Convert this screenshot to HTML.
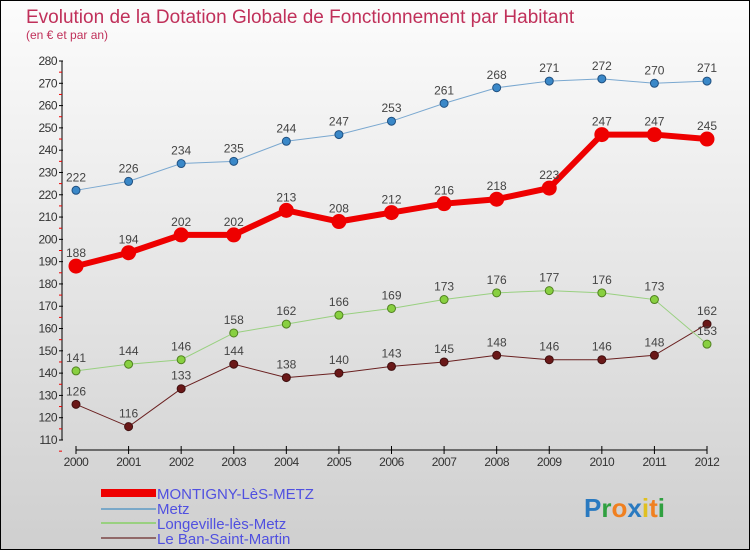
<!DOCTYPE html>
<html><head><meta charset="utf-8"><style>
html,body{margin:0;padding:0}
body{width:750px;height:550px;overflow:hidden;font-family:"Liberation Sans",sans-serif}
#wrap{position:relative;width:748px;height:548px;border:1px solid #000;background:linear-gradient(#fcfcfc,#cfcfcf)}
</style></head><body>
<div id="wrap">
<svg id="chart" width="748" height="548">
<text x="25" y="22" font-size="19" fill="#c0305a">Evolution de la Dotation Globale de Fonctionnement par Habitant</text>
<text x="25" y="38" font-size="12" fill="#c0305a">(en € et par an)</text>
<g id="axes"></g><g id="series"></g>
<g>
<rect x="100" y="488" width="55" height="8" fill="#ee0000"/>
<text x="156" y="498" font-size="15" fill="#5050e0">MONTIGNY-LèS-METZ</text>
<rect x="100" y="507" width="55" height="2" fill="#7aa8c8"/>
<text x="156" y="513" font-size="15" fill="#5050e0">Metz</text>
<rect x="100" y="521" width="55" height="2" fill="#99d080"/>
<text x="156" y="528" font-size="15" fill="#5050e0">Longeville-lès-Metz</text>
<rect x="100" y="536" width="55" height="2" fill="#906868"/>
<text x="156" y="543" font-size="15" fill="#5050e0">Le Ban-Saint-Martin</text>
</g>
<text x="583" y="516" font-size="26" font-weight="bold"><tspan fill="#2a7ac0">P</tspan><tspan fill="#30a040">r</tspan><tspan fill="#f08020">o</tspan><tspan fill="#2a7ac0">x</tspan><tspan fill="#e0c020">i</tspan><tspan fill="#f08020">t</tspan><tspan fill="#30a040">i</tspan></text>
</svg>
</div>
<script>
const years=[2000,2001,2002,2003,2004,2005,2006,2007,2008,2009,2010,2011,2012];
const montigny=[188,194,202,202,213,208,212,216,218,223,247,247,245];
const metz=[222,226,234,235,244,247,253,261,268,271,272,270,271];
const longeville=[141,144,146,158,162,166,169,173,176,177,176,173,153];
const ban=[126,116,133,144,138,140,143,145,148,146,146,148,162];
const yTicks=[110,120,130,140,150,160,170,180,190,200,210,220,230,240,250,260,270,280];
const NS="http://www.w3.org/2000/svg";
function X(i){return 75+i*(706-75)/(years.length-1);}
function Y(v){return 60+(280-v)*(379/170);}
function mk(t,a,p){const e=document.createElementNS(NS,t);for(const k in a)e.setAttribute(k,a[k]);p.appendChild(e);return e;}
const ax=document.getElementById('axes'),sg=document.getElementById('series');
const yl=mk('line',{x1:61,y1:Y(280),x2:61,y2:Y(110),stroke:'#000'},ax);


yTicks.forEach(v=>{
 mk('line',{x1:58,x2:62,y1:Y(v),y2:Y(v),stroke:'#000'},ax);
 mk('line',{x1:58,x2:61,y1:Y(v-5),y2:Y(v-5),stroke:'#e00'},ax);
 const t=mk('text',{x:56,y:Y(v)+4,'text-anchor':'end','font-size':12,fill:'#333','letter-spacing':'-0.5'},ax);t.textContent=v;
 
 
});
const xl=mk('line',{x1:X(0),y1:449,x2:X(12),y2:449,stroke:'#000'},ax);


years.forEach((y,i)=>{
 mk('line',{x1:X(i),x2:X(i),y1:445,y2:453,stroke:'#000'},ax);
 const t=mk('text',{x:X(i),y:465,'text-anchor':'middle','font-size':12,fill:'#333','letter-spacing':'-0.5'},ax);t.textContent=y;
 
 
});
function series(d,name,color,w,r,dot,stroke){
 const g=mk('g',{},sg);
 
 
 const pl=mk('polyline',{points:d.map((v,i)=>X(i)+','+Y(v)).join(' '),fill:'none',stroke:color,'stroke-width':w},g);
 
 
 d.forEach((v,i)=>{
  const c=mk('circle',{cx:X(i),cy:Y(v),r:r,fill:dot,stroke:stroke,'stroke-width':1},g);
  
  
  const t=mk('text',{x:X(i),y:Y(v)-9,'text-anchor':'middle','font-size':12,fill:'#444'},g);t.textContent=v;
  
  
 });
}
series(ban,'ban','#6a2020',1,4,'#6a1818','#401010');
series(longeville,'longeville','#99d080',1,4,'#88d040','#508020');
series(metz,'metz','#7aa8d0',1,4,'#3a88c8','#205080');
series(montigny,'montigny','#ee0000',6,7,'#ee0000','#ee0000');
</script>
</body></html>
